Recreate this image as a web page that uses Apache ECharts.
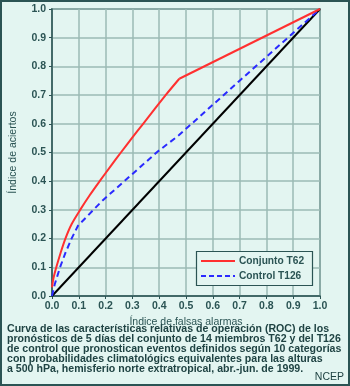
<!DOCTYPE html>
<html><head><meta charset="utf-8">
<script src="https://cdn.jsdelivr.net/npm/echarts@6/dist/echarts.min.js"></script>
<style>html,body{margin:0;padding:0;background:#e3f5f1}#c{width:350px;height:386px}</style>
</head><body><div id="c"></div>
<script>
const conjuntoT62Curve = [[0,0.03],[0.005,0.06],[0.016,0.1],[0.032,0.15],[0.05,0.2],[0.073,0.25],[0.105,0.3],[0.14,0.35],[0.178,0.4],[0.217,0.45],[0.257,0.5],[0.298,0.55],[0.34,0.6],[0.382,0.65],[0.424,0.7],[0.475,0.757]];
const conjuntoT62Tail = [[0.475,0.757],[1,1]];
const controlT126 = [[0,0],[0.01,0.04],[0.03,0.1],[0.05,0.15],[0.073,0.2],[0.097,0.245],[0.19,0.334],[0.27,0.4],[0.39,0.5],[0.473,0.56],[0.7,0.75],[1,1]];
const diagonal = [[0,0],[1,1]];
const seriesNames = ['Conjunto T62','Control T126'];
const captionLines = [
 'Curva de las características relativas de operación (ROC) de los',
 'pronósticos de 5 días del conjunto de 14 miembros T62 y del T126',
 'de control que pronostican eventos definidos según 10 categorías',
 'con probabilidades climatológics equivalentes para las alturas',
 'a 500 hPa, hemisferio norte extratropical, abr.-jun. de 1999.'
];
const dark = '#2b5454';
const red = '#ff3030', blue = '#2a2aff';
const ff = '"Liberation Sans", Arial, sans-serif';
const chart = echarts.init(document.getElementById('c'));
const graphics = [
 {type:'rect', shape:{x:1,y:1,width:348,height:384}, style:{fill:'none', stroke:dark, lineWidth:2}, z:100},
 {type:'rect', shape:{x:196.5,y:251.5,width:116,height:34}, style:{fill:'#e3f5f1', stroke:dark, lineWidth:1.2}, z:50},
 {type:'line', shape:{x1:201,y1:261,x2:235,y2:261}, style:{stroke:red, lineWidth:2}, z:51},
 {type:'line', shape:{x1:201,y1:276,x2:235,y2:276}, style:{stroke:blue, lineWidth:2, lineDash:[5,3]}, z:51},
 {type:'text', x:239, y:261, style:{text:seriesNames[0], fill:dark, font:'bold 10.2px '+ff, verticalAlign:'middle'}, z:51},
 {type:'text', x:239, y:276, style:{text:seriesNames[1], fill:dark, font:'bold 10.2px '+ff, verticalAlign:'middle'}, z:51}
];
captionLines.forEach((t,i)=>{
 graphics.push({type:'text', x:7, y:329+i*10, style:{text:t, fill:'#1f4343', font:'bold 10.6px '+ff, verticalAlign:'middle'}});
});
graphics.push({type:'text', x:344, y:377, style:{text:'NCEP', fill:'#1f4343', font:'10.5px '+ff, align:'right', verticalAlign:'middle'}});
const axisCommon = {
 type:'value', min:0, max:1, interval:0.1,
 nameLocation:'middle',
 nameTextStyle:{color:dark, fontSize:10.5, fontFamily:ff},
 axisLine:{show:true, lineStyle:{color:dark, width:1.5}},
 axisTick:{show:true, length:3, lineStyle:{color:dark, width:1}},
 splitLine:{show:true, lineStyle:{color:'#9bbab5', width:1.5}}
};
chart.setOption({
 backgroundColor:'#e3f5f1',
 animation:false,
 graphic:graphics,
 grid:{left:45, right:30, top:9, bottom:90, show:true, borderColor:dark, borderWidth:1.5, backgroundColor:'transparent'},
 xAxis:Object.assign({}, axisCommon, {name:'Índice de falsas alarmas', nameGap:18,
   axisLabel:{color:dark, fontWeight:'bold', fontSize:10.5, margin:5, fontFamily:ff, formatter:v=>v.toFixed(1)}}),
 yAxis:Object.assign({}, axisCommon, {name:'Índice de aciertos', nameGap:33,
   axisLabel:{color:dark, fontWeight:'bold', fontSize:10.5, margin:6, fontFamily:ff, formatter:v=>v.toFixed(1)}}),
 series:[
   {name:'diag', type:'line', data:diagonal, symbol:'none', lineStyle:{color:'#000', width:2}, z:3},
   {name:seriesNames[1], type:'line', data:controlT126, symbol:'none', color:blue, lineStyle:{color:blue, width:2, type:[6,4]}, z:4},
   {name:seriesNames[0], type:'line', data:conjuntoT62Curve, symbol:'none', smooth:0.3, color:red, lineStyle:{color:red, width:2}, z:5},
   {name:seriesNames[0], type:'line', data:conjuntoT62Tail, symbol:'none', color:red, lineStyle:{color:red, width:2}, z:5}
 ]
});
</script></body></html>
